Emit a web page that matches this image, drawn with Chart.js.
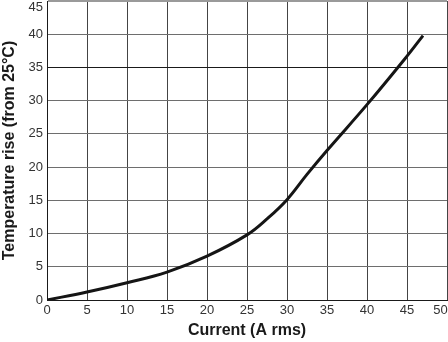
<!DOCTYPE html>
<html>
<head>
<meta charset="utf-8">
<script src="https://cdn.jsdelivr.net/npm/chart.js@4/dist/chart.umd.min.js"></script>
<style>
  html, body { margin: 0; padding: 0; background: #fff; }
  #wrap { width: 448px; height: 342px; position: relative; }
</style>
</head>
<body>
<div id="wrap"><canvas id="tempChart"></canvas></div>
<script>
// Curve
const currentA = [0, 5, 10, 15, 20, 25, 27.5, 30, 32.5, 35, 40, 45, 47];
const tempRise = [0, 1.2, 2.6, 4.2, 6.6, 9.8, 12.2, 15.1, 18.9, 22.5, 29.4, 36.7, 39.8];

// Axis setup
const xTicks = [0, 5, 10, 15, 20, 25, 30, 35, 40, 45, 50];
const yTicks = [0, 5, 10, 15, 20, 25, 30, 35, 40, 45];
const xTitle = 'Current (A rms)';
const yTitle = 'Temperature rise (from 25°C)';

const points = currentA.map((x, i) => ({ x: x, y: tempRise[i] }));

function hGridColor(ctx) {
    const v = ctx.tick ? ctx.tick.value : null;
    if (v === 45) return '#9a9a9a';
    if (v === 35 || v === 0) return '#1a1a1a';
    return '#6e6e6e';
}

const ctx = document.getElementById('tempChart').getContext('2d');
const tempChart = new Chart(ctx, {
    type: 'line',
    data: {
        datasets: [{
            data: points,
            borderColor: '#151515',
            borderWidth: 3,
            pointRadius: 0,
            fill: false,
            tension: 0.4
        }]
    },
    options: {
        responsive: true,
        maintainAspectRatio: false,
        animation: false,
        layout: { padding: { top: 1, right: 1, left: 0, bottom: 0 } },
        scales: {
            x: {
                type: 'linear',
                min: 0,
                max: 50,
                afterBuildTicks: (s) => { s.ticks = xTicks.map(v => ({ value: v })); },
                afterFit: (s) => { s.height = 42; s.paddingLeft = 0; s.paddingRight = 0; },
                grid: { color: '#444', lineWidth: 1, drawTicks: false },
                border: { color: '#1a1a1a', width: 1 },
                ticks: {
                    color: '#333',
                    padding: 3,
                    maxRotation: 0,
                    font: { family: 'Liberation Sans, Arial, sans-serif', size: 13 },
                    // keep the last label inside the canvas
                    callback: (v) => v === 50 ? '50\u2002\u2002' : String(v)
                },
                title: {
                    display: true,
                    text: xTitle,
                    color: '#1a1a1a',
                    padding: { top: 0, bottom: 2 },
                    font: { family: 'Liberation Sans, Arial, sans-serif', size: 16, weight: 'bold' }
                }
            },
            y: {
                type: 'linear',
                min: 0,
                max: 45,
                afterBuildTicks: (s) => { s.ticks = yTicks.map(v => ({ value: v })); },
                afterFit: (s) => { s.width = 47; s.paddingTop = 0; s.paddingBottom = 0; },
                grid: {
                    color: hGridColor,
                    lineWidth: (c) => (c.tick && c.tick.value === 45) ? 2 : 1,
                    drawTicks: false
                },
                border: { color: '#1a1a1a', width: 1 },
                ticks: {
                    color: '#333',
                    padding: 4,
                    font: { family: 'Liberation Sans, Arial, sans-serif', size: 13, lineHeight: 1.0 },
                    // push the top label down below the frame
                    callback: (v) => v === 45 ? ['', '45'] : String(v)
                },
                title: {
                    display: true,
                    text: yTitle,
                    color: '#1a1a1a',
                    padding: { top: 0, bottom: 0 },
                    font: { family: 'Liberation Sans, Arial, sans-serif', size: 16, weight: 'bold' }
                }
            }
        },
        plugins: {
            legend: { display: false },
            tooltip: { enabled: false }
        }
    }
});
</script>
</body>
</html>
